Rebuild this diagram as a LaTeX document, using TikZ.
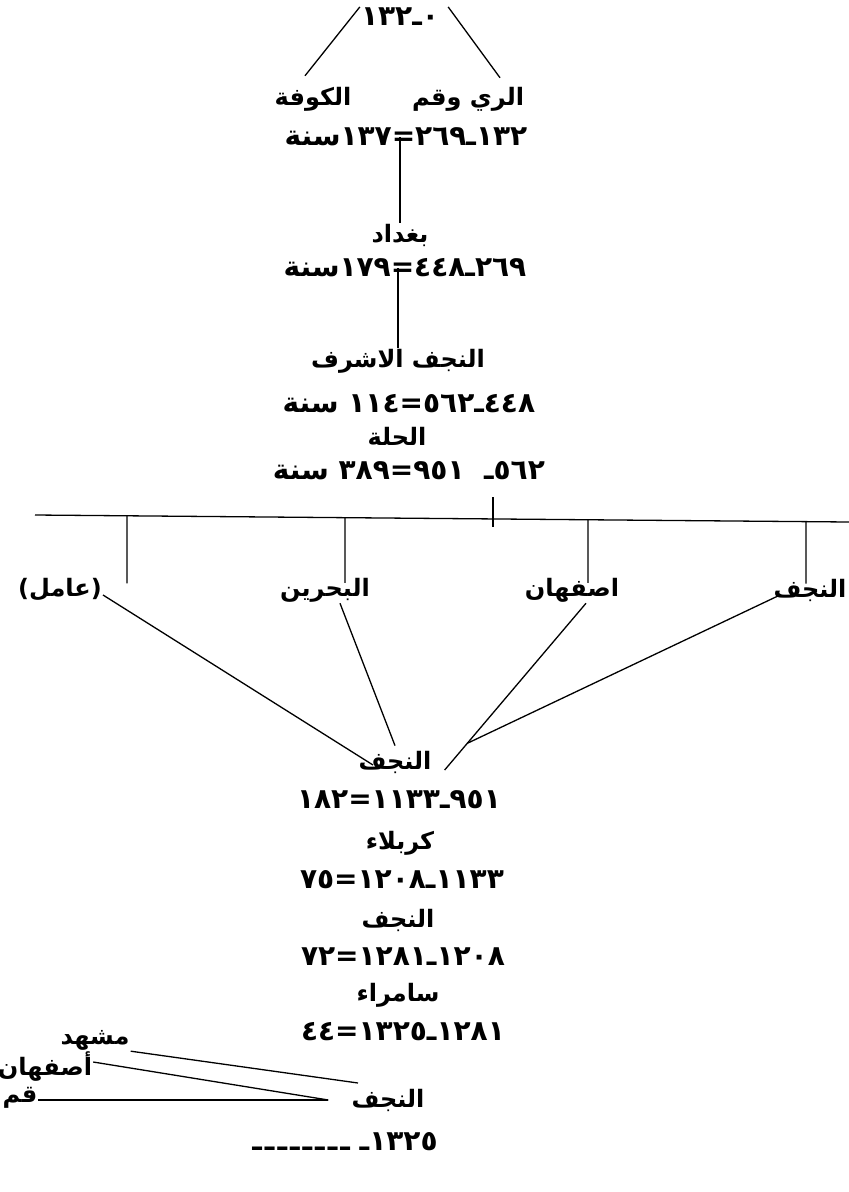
\documentclass[tikz,border=0pt]{standalone}
\usepackage{fontspec}
\newfontfamily\arabicfont[Script=Arabic]{DejaVu Sans}
\TeXXeTstate=1
\usetikzlibrary{calc}
\newcommand\rtl[1]{\beginR#1\endR}
\tikzset{
  city/.style={font=\arabicfont\bfseries\fontsize{24}{28}\selectfont, inner sep=1pt},
  yr/.style={city, font=\arabicfont\bfseries\fontsize{28}{32}\selectfont},
  link/.style={line width=1.3pt},
}

\begin{document}
\begin{tikzpicture}[x=1pt, y=-1pt]
    \useasboundingbox (0,0) rectangle (849,1192);
    % head
    \node[yr] (y0) at (400,17) {\rtl{٠ـ١٣٢}};
    \node[city] (kufa) at (313,99) {\rtl{الكوفة}};
    \node[city] (rayy) at (468,99) {\rtl{الري وقم}};
    \draw[link] (y0.north west) -- ([xshift=-8pt,yshift=10pt]kufa.north);
    \draw[link] ([xshift=8pt]y0.north east) -- ([xshift=32pt,yshift=8pt]rayy.north);

    % chain
    \node[yr] (r1) at (406,137) {\rtl{١٣٢ـ٢٦٩=١٣٧سنة}};
    \node[city] (bag) at (400,235) {\rtl{بغداد}};
    \node[yr] (r2) at (405,268) {\rtl{٢٦٩ـ٤٤٨=١٧٩سنة}};
    \node[city] (naj1) at (398,361) {\rtl{النجف الاشرف}};
    \node[yr] (r3) at (409,404) {\rtl{٤٤٨ـ٥٦٢=١١٤ سنة}};
    \node[city] (hil) at (397,436) {\rtl{الحلة}};
    \node[yr] (r4) at (409,471) {\rtl{٥٦٢ـ\ \ ٩٥١=٣٨٩ سنة}};
    \draw[link] (bag.north |- r1.center) -- (bag.north);
    \draw[link] (naj1.north |- r2.center) -- (naj1.north);

    % split
    \coordinate (barL) at (35,515);
    \coordinate (barR) at (849,522);
    \coordinate (tick) at (493,497);
    \draw[link] (barL) -- (barR);
    \draw[link] (tick) -- ++(0,30);
    \node[city] (amil) at (60,590) {\rtl{(عامل)}};
    \node[city] (bahr) at (325,590) {\rtl{البحرين}};
    \node[city] (isf) at (572,590) {\rtl{اصفهان}};
    \node[city] (najf) at (810,590) {\rtl{النجف}};
    \foreach \n/\x in {amil/127, bahr/345, isf/588, najf/806} {
      \draw[link, shorten >=-6pt] ($(barL)!{(\x-35)/814}!(barR)$) -- (\n.north -| \x,0);
    }

    % back to najaf
    \node[city] (naj2) at (395,762) {\rtl{النجف}};
    \coordinate (isfe) at ([xshift=14pt]isf.south);
    \coordinate (fork) at ([xshift=12pt,yshift=-8pt]naj2.east);
    \draw[link] ([yshift=-5pt]amil.east) -- ([xshift=-22pt,yshift=-3pt]naj2.center);
    \draw[link] ([xshift=15pt]bahr.south) -- ([yshift=4pt]naj2.north);
    \draw[link] (isfe) -- (fork);
    \draw[link] ([xshift=-30pt,yshift=-5pt]najf.center) -- ($(isfe)!0.84!(fork)$);

    \node[yr] (r5) at (399,800) {\rtl{٩٥١ـ١١٣٣=١٨٢}};
    \node[city] (karb) at (400,843) {\rtl{كربلاء}};
    \node[yr] (r6) at (402,880) {\rtl{١١٣٣ـ١٢٠٨=٧٥}};
    \node[city] (naj3) at (398,920) {\rtl{النجف}};
    \node[yr] (r7) at (403,957) {\rtl{١٢٠٨ـ١٢٨١=٧٢}};
    \node[city] (sam) at (398,995) {\rtl{سامراء}};
    \node[yr] (r8) at (403,1032) {\rtl{١٢٨١ـ١٣٢٥=٤٤}};

    % last move
    \node[city] (mash) at (95,1040) {\rtl{مشهد}};
    \node[city] (isf2) at (45,1067) {\rtl{أصفهان}};
    \node[city] (qum) at (20,1098) {\rtl{قم}};
    \node[city] (naj4) at (388,1100) {\rtl{النجف}};
    \node[yr] (r9) at (345,1142) {\rtl{١٣٢٥ـ\ ـ\kern3ptـ\kern3ptـ\kern3ptـ\kern3ptـ\kern3ptـ\kern3ptـ\kern3ptـ}};
    \coordinate (meet) at ($(naj4.west |- qum.east)+(-22,2)$);
    \draw[link] (mash.south east) -- ([xshift=-30pt,yshift=17pt]naj4.center);
    \draw[link] ([yshift=5pt]isf2.east) -- (meet);
    \draw[link] ([yshift=-2pt]qum.east) -- (meet);
\end{tikzpicture}
\end{document}
